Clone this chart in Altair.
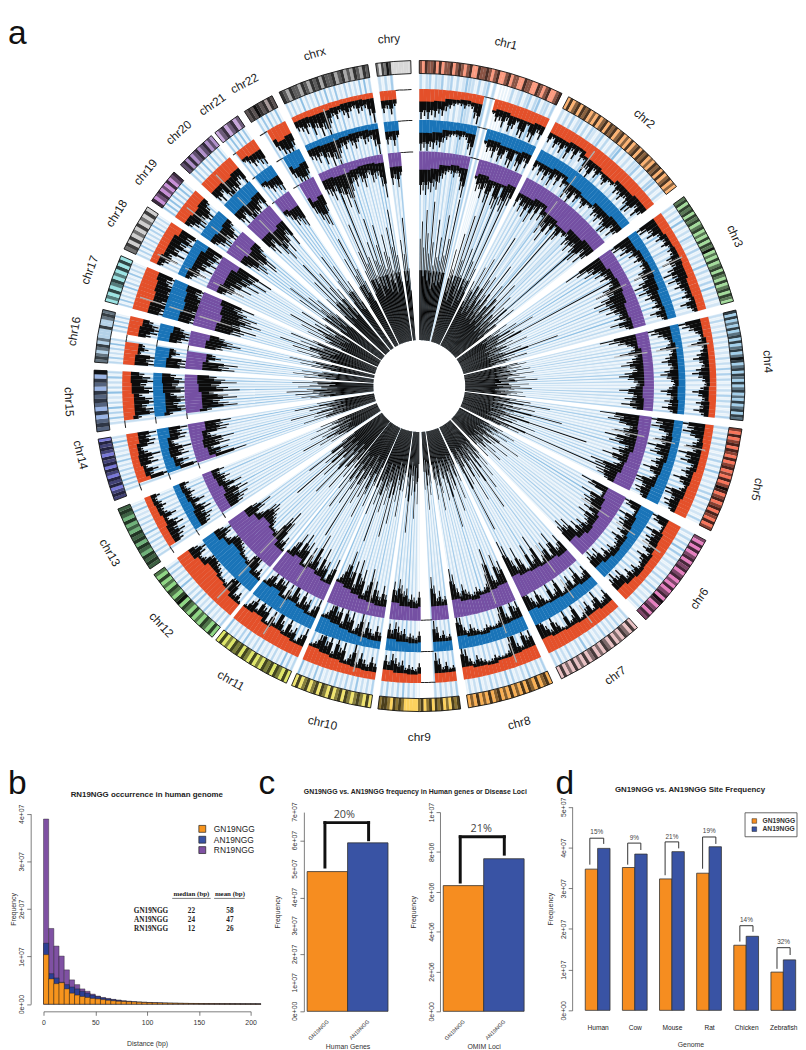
import math
import altair as alt
import pandas as pd

alt.data_transformers.disable_max_rows()

FONT = "Liberation Sans"
names = ["chr1","chr2","chr3","chr4","chr5","chr6","chr7","chr8","chr9","chr10","chr11","chr12",
         "chr13","chr14","chr15","chr16","chr17","chr18","chr19","chr20","chr21","chr22","chrx","chry"]
chrom_start = [0,27.3,54.4,76.5,97.6,118.3,137.9,155.8,172.7,188.6,204.1,219.5,235.8,249.4,261.9,274.2,285.1,294.9,304.7,312.8,321.1,327.5,334.5,352.3]
chrom_end = [26,52.2,74.9,96.1,116.4,135.9,154.1,171.3,187.3,203.1,218.7,234.6,247.8,260.6,272.8,283.6,293.6,303.4,311.1,320.3,326.1,333.1,350.9,358.5]
label_theta = [14.2,40.1,64.6,86,107,127.2,145.9,163.5,180,196,212.6,227.2,241.7,258.5,267.4,279,289.4,299.7,308,316.5,323.7,330,342.5,355]
label_angle = [14,40,66,86,100,-55,-35,-15,0,13,30,47,60,76,87,-80,-70,-58,-50,-42,-35,-28,-17,-4]
label_r = [354,350,350,350,354,352,350,352,352,351,350,352,352,346,351,350,350,349,348,350,350,350,349,349]
base_color = ["#fb9a7f","#fdb372","#a3dc9b","#a3cfea","#f8745a","#e67fc0","#eac2c4","#f9b054","#fdd35e","#f0e46e","#dfe767","#8fd784",
              "#6fb27a","#7878d8","#9ab5e6","#b4d2e8","#9ce4e4","#cfcfcf","#c88fd8","#b090cc","#c7a6dc","#a89a9a","#a8a8a8","#d8d8d8"]
centro = [None,.38,.46,.26,.27,.36,.37,.31,None,.3,.55,.27,None,None,None,None,.3,.22,.44,.44,None,None,.39,None]

chr1_tip=[30,27,30,26,28,24,26,21,18,15,13,14,16,13,15,24,29,-1,-1,-1,14,22,20,26,18,28,24,16,28,30,13,26,30,18,24]
chr2_tip=[22,16,24,19,26,18,28,17,24,14,22,18,30,24,34,20,26,14,22,26,16,20,18,24,22,26,20,24,30,28,18,26,20]
chr3_tip=[38,30,22,26,16,20,14,18,12,15,14,20,26,18,24,30,22,28,20,24,18,16,20,14,24,18,14]
chr4_tip=[34,28,22,16,12,14,22,12,14,18,22,16,14,20,24,18,14,12,16,24,18,14,20,16,22,14]
chr5_tip=[36,26,30,22,14,18,24,16,30,22,26,14,18,22,16,28,20,14,18,34,30,22,28,26,20]
chr6_tip=[34,28,12,16,30,22,26,24,18,22,14,24,18,16,14,20,16,22,16,28,24,30,26]
chr7_tip=[24,18,16,30,22,12,26,20,18,14,36,22,18,32,16,14,24,34,20,26,38,42]
chr8_tip=[30,26,36,18,22,42,32,18,16,14,16,18,15,14,16,18,22,16,20,30,34]
chr9_tip=[16,14,20,15,24,30,-1,-1,-1,-1,20,14,16,18,15,22,20,24,28,20,26]
chr10_tip=[16,22,14,18,24,14,32,20,14,30,24,36,18,34,26,40,30,22,18]
chr11_tip=[30,22,14,26,22,34,18,26,42,20,30,16,32,28,36,22,34,26,18]
chr12_tip=[16,24,20,34,42,36,22,16,20,26,28,30,34,36,34,24,20,28,34,24]
chr13_tip=[-1,-1,18,20,24,18,26,22,14,24,16,14,18,15,12,16]
chr14_tip=[-1,-1,36,18,24,14,26,22,30,18,14,26,28,24,30]
chr15_tip=[-1,-1,18,36,30,24,36,30,20,38,30,24,36,28,22]
chr16_tip=[34,30,36,14,24,20,-1,-1,24,30,36,30,24]
chr17_tip=[34,36,44,32,40,46,38,42,34,30,38]
chr18_tip=[14,18,26,18,30,22,34,26,38,28,40]
chr19_tip=[20,26,32,30,26,36,34,24,20]
chr20_tip=[26,30,22,34,40,30,36,28,24,34]
chr21_tip=[-1,14,18,24,22,26,28]
chr22_tip=[-1,-1,24,30,34,36,26]
chrx_tip=[16,18,22,16,26,20,30,24,36,20,14,18,12,16,20,14,12,18,16,14,22,30]
chry_tip=[22,18,24,16,-1,-1,-1,-1]

chr1_edge=[13,12,9,8,9,12,10,12,12,10]
chr2_edge=[12,10,14,16,12,10]
chr3_edge=[10,8,7,8,10,9]
chr4_edge=[9,7,7,7,8,7]
chr5_edge=[9,8,8,10,11,13]
chr6_edge=[14,12,11,9,8,10,13]
chr7_edge=[10,12,12,13,14,16]
chr8_edge=[14,13,12,10,11,13]
chr9_edge=[10,10,10,9,10,12]
chr10_edge=[8,9,10,12,14,16]
chr11_edge=[12,14,16,14,18,16]
chr12_edge=[14,18,20,22,18,14]
chr13_edge=[8,8,10,8,7]
chr14_edge=[14,10,8,9,12]
chr15_edge=[10,12,12,10,9]
chr16_edge=[12,14,10,12,14]
chr17_edge=[16,18,16,14]
chr18_edge=[8,10,10,14]
chr19_edge=[12,14,12]
chr20_edge=[14,16,14]
chr21_edge=[10,12,12]
chr22_edge=[12,16,14]
chrx_edge=[6,7,7,6,5,5,6]
chry_edge=[10,8]

chr1_core=[70,82,64,90,74,60,96,68,52,84,58,72,56,88,60,72,100,0,0,0,66,52,78,44,92,60,120,50,70,40,110,62,48,130,58]
chr2_core=[50,44,62,38,70,48,42,90,56,36,60,46,38,72,44,34,58,40,110,48,36,64,42,32,56,38,48,34,120,40,30,52,36]
chr3_core=[42,36,30,48,34,60,32,44,30,120,36,28,40,32,50,30,36,28,44,32,70,30,38,28,46,34,30]
chr4_core=[38,44,34,40,30,46,36,32,48,38,30,42,34,50,36,30,44,32,38,46,34,30,40,36,32,42]
chr5_core=[36,46,30,60,34,28,50,40,30,70,36,28,44,34,90,30,40,28,54,32,26,130,36,44,30]
chr6_core=[34,28,44,32,26,40,30,24,36,52,28,34,24,46,30,26,38,28,44,26,32,24,36]
chr7_core=[30,40,26,48,32,28,56,34,26,70,30,44,28,36,60,30,26,46,32,80,36,28]
chr8_core=[40,30,52,34,28,60,36,44,30,70,38,32,50,34,28,44,56,32,38,48,34]
chr9_core=[36,44,30,54,28,40,0,0,0,0,32,50,36,60,34,44,30,70,38,46]
chr10_core=[42,34,60,38,50,32,66,40,76,36,54,44,60,36,82,48,56,38,64]
chr11_core=[44,60,36,52,70,40,56,34,62,48,90,38,54,66,40,50,72,36,58]
chr12_core=[50,38,62,44,34,70,46,40,58,36,80,42,52,36,64,44,34]
chr13_core=[0,0,40,30,48,36,60,34,44,30,52,38,30,46,34,42]
chr14_core=[0,0,36,52,34,44,30,60,38,30,46,34,56,30,40]
chr15_core=[0,0,44,50,38,54,42,60,46,36,52,44,38,56,42]
chr16_core=[48,38,56,42,50,36,0,0,44,52,38,60,44]
chr17_core=[46,56,40,60,48,70,44,56,40,64,48]
chr18_core=[40,54,36,60,44,70,40,52,36,64,46]
chr19_core=[50,70,44,80,54,66,48,60,44]
chr20_core=[56,44,70,50,84,46,60,72,48,56]
chr21_core=[0,60,80,50,70,48,56]
chr22_core=[0,48,70,56,84,60,50]
chrx_core=[56,70,90,60,110,64,50,74,60,90,56,70,84,52,64,76,60,50,80,66,92,60]
chry_core=[70,60,85,50,0,0,0,0]

chr1_spoke="302403150240301632040250300000301402503602304"
chr2_spoke="2030402503041026030204703020315030204602030"
chr3_spoke="30204080302051030402030603020407020301"
chr4_spoke="203010304020301030205040301020403020104"
chr5_spoke="302050302010403060201030405020301040"
chr6_spoke="20304070503020103040205030104020"
chr7_spoke="3020403020501030206030104020503"
chr8_spoke="403020503010406020304010502030"
chr9_spoke="50302040300000002030604020503"
chr10_spoke="40302060304020503010406030207"
chr11_spoke="30508020304010503020604030208"
chr12_spoke="403020305020604030107030205040"
chr13_spoke="00304020503080204030106020"
chr14_spoke="0030508030402060301040702"
chr15_spoke="00206040703010803020603"
chr16_spoke="3050204080300030705040"
chr17_spoke="40603020704010603020"
chr18_spoke="30406020503040702030"
chr19_spoke="60807060507060"
chr20_spoke="4060308040702060"
chr21_spoke="05070608060"
chr22_spoke="004060803070"
chrx_spoke="30402070302050408030601040302060703"
chry_spoke="20305000000"

chr1_ideo="1021120201120121012002112101200120110021100210120012"
chr2_ideo="020120212010201202120120102012021201021202012010"
chr3_ideo="1202120212012010202130102012021020120210"
chr4_ideo="2020102012020120132012021020120102012021"
chr5_ideo="10201202102012010201320120120210201"
chr6_ideo="1020201202120120102012032012021"
chr7_ideo="0201201020120102102010201020"
chr8_ideo="0210201202010201021020102010"
chr9_ideo="21201021202102100000121201221"
chr10_ideo="02012101202102012021021020"
chr11_ideo="0201202120102012021201020"
chr12_ideo="020120102012032012010201"
chr13_ideo="1212012021201020121"
chr14_ideo="12102120120212012120"
chr15_ideo="121020121201203"
chr16_ideo="12101201000200121"
chr17_ideo="01020120102020"
chr18_ideo="1202010201020"
chr19_ideo="20120102012"
chr20_ideo="1202012012010"
chr21_ideo="01201201"
chr22_ideo="1213212021"
chrx_ideo="21021102102120211201201021021"
chry_ideo="10213200000000"

CX, CY = 394, 376
R_CORE = 46
IDEO_OUT, IDEO_IN = 326, 313
RINGS = [(297.5, "#e4502a", 1.0), (266.5, "#1a74b8", 1.03), (235, "#7550a3", 1.45)]
SHADE = [0.0, 0.45, 0.7, 0.9]

def shade(hexcol, k):
    r, g, b = (int(hexcol[i:i+2], 16) for i in (1, 3, 5))
    return "#%02x%02x%02x" % (int(r*(1-k)), int(g*(1-k)), int(b*(1-k)))

rows = []
def add(a0, a1, r0, r1, c, o=1.0):
    rows.append(dict(a0=a0, a1=a1, r0=r0, r1=r1, c=c, o=o))

for n, s, e in zip(names, chrom_start, chrom_end):
    spoke = globals()[n+"_spoke"]
    core = globals()[n+"_core"]
    w = (e-s)/len(spoke)
    for i, ch in enumerate(spoke):
        d = int(ch)
        a = s+i*w
        if d == 0:
            if core[int((i+0.5)*len(core)/len(spoke))] > 0:
                add(a+0.2*w, a+0.8*w, R_CORE, IDEO_IN, "#e9f3fa")
            continue
        add(a-0.1*w, a+1.1*w, R_CORE, IDEO_IN, "#dcebf7")
        add(a+0.15*w, a+0.85*w, R_CORE, IDEO_IN, "#8fc0e4", min(d/7, 1))

for n, s, e in zip(names, chrom_start, chrom_end):
    core = globals()[n+"_core"]
    w = (e-s)/len(core)
    for i, h in enumerate(core):
        if h:
            body = min(h, 70)
            add(s+i*w, s+(i+1)*w+0.03, R_CORE, R_CORE+body, "#050505")
            add(s+(i+0.3)*w, s+(i+0.7)*w, R_CORE+body-0.5, R_CORE+1.45*h, "#050505")

for r_top, col, k in RINGS:
    for n, s, e, cf in zip(names, chrom_start, chrom_end, centro):
        tip = globals()[n+"_tip"]
        edge = globals()[n+"_edge"]
        w = (e-s)/len(tip)
        for i, t in enumerate(tip):
            a = s+i*w
            if t < 0:
                add(a, a+w, r_top-1, r_top, "#222222")
                continue
            sd = edge[int(i*len(edge)/len(tip))]*k
            td = max(t*k, sd+3)
            mid = sd+0.6*(td-sd)
            add(a, a+w+0.04, r_top-sd, r_top, col)
            add(a, a+w+0.04, r_top-mid, r_top-sd+0.5, "#0c0c0c")
            add(a+0.3*w, a+0.7*w, r_top-td, r_top-mid, "#0c0c0c")
        if cf is not None:
            a = s+cf*(e-s)
            add(a-0.14, a+0.14, r_top-26*k, r_top-4, "#b0b0b0")

for n, s, e, col in zip(names, chrom_start, chrom_end, base_color):
    band = globals()[n+"_ideo"]
    w = (e-s)/len(band)
    for i, ch in enumerate(band):
        add(s+i*w, s+(i+1)*w+0.03, IDEO_IN, IDEO_OUT, shade(col, SHADE[int(ch)]))

arcs = pd.DataFrame(rows)
ideo_frame = pd.DataFrame({"a0": chrom_start, "a1": chrom_end, "r0": [IDEO_IN]*24, "r1": [IDEO_OUT]*24})
labels = pd.DataFrame({"t": names, "th": label_theta, "ang": [(a+360) % 360 for a in label_angle], "r": label_r})

ts = alt.Scale(domain=[0, 360], range=[0, 2*math.pi])
rs = alt.Scale(domain=[0, 400], range=[0, 405])
pos = dict(x=alt.value(CX), y=alt.value(CY))

arc_layer = alt.Chart(arcs).mark_arc(strokeWidth=0).encode(
    theta=alt.Theta("a0:Q", scale=ts), theta2=alt.Theta2("a1:Q"),
    radius=alt.Radius("r1:Q", scale=rs), radius2=alt.Radius2("r0:Q"),
    color=alt.Color("c:N", scale=None), opacity=alt.Opacity("o:Q", scale=None), **pos)
ideo_layer = alt.Chart(ideo_frame).mark_arc(fillOpacity=0, stroke="#111111", strokeWidth=0.9).encode(
    theta=alt.Theta("a0:Q", scale=ts), theta2=alt.Theta2("a1:Q"),
    radius=alt.Radius("r1:Q", scale=rs), radius2=alt.Radius2("r0:Q"), **pos)
label_layer = alt.Chart(labels).mark_text(font=FONT, fontSize=12, color="#1a1a1a").encode(
    theta=alt.Theta("th:Q", scale=ts), radius=alt.Radius("r:Q", scale=rs),
    angle=alt.Angle("ang:Q", scale=None), text="t:N", **pos)

def note(text, x, y, size=8, weight="normal", font=FONT, color="#222222", align="center", angle=0):
    return alt.Chart(pd.DataFrame({"t": [text]})).mark_text(
        font=font, fontSize=size, fontWeight=weight, color=color, align=align, angle=angle
    ).encode(x=alt.value(x), y=alt.value(y), text="t:N")

circos = alt.layer(arc_layer, ideo_layer, label_layer,
                   note("a", -23, 19, 34, color="#111111", align="left")
                   ).properties(width=770, height=754)

# ---------- panel data ----------
hist_rn = [38.9,15.9,12.2,10.1,7.2,5.1,4.1,3.2,2.7,2.1,1.7,1.4,1.2,1.0,.85,.7,.6,.5,.45,.4,.35,.3,.28,.25,.22,.2,.18,.16,.15,.14,.12,.11,.1,.1,.09,.08,.08,.07,.07,.06,.06,.05]
hist_an = [12.8,6.4,5.5,4.6,4.1,3.6,3.2,2.7,2.3,1.9,1.6,1.3,1.1,.95,.8,.68,.58,.5,.44,.38,.33,.29,.26,.23,.2,.18,.16,.14,.13,.12,.1,.09,.09,.08,.07,.07,.06,.06,.05,.05,.05,.04]
hist_gn = [10.4,5.3,4.3,4.5,3.2,2.3,1.9,1.6,1.4,1.2,1.1,.95,.8,.7,.6,.55,.5,.45,.4,.35,.3,.27,.24,.22,.2,.18,.16,.15,.13,.12,.1,.09,.09,.08,.07,.07,.06,.06,.05,.05,.05,.04]
hist_colors = ["#7f51a3", "#2c3f94", "#f7941d"]
table_rows = ["GN19NGG", "AN19NGG", "RN19NGG"]
table_median = ["22", "24", "12"]
table_mean = ["58", "47", "26"]
c1_values = [4.91e7, 5.92e7]
c2_values = [6.31e6, 7.66e6]
c1_ticks = [0, 1e7, 2e7, 3e7, 4e7, 5e7, 6e7, 7e7]
c1_tick_labels = ["0e+00", "1e+07", "2e+07", "3e+07", "4e+07", "5e+07", "6e+07", "7e+07"]
genomes = ["Human", "Cow", "Mouse", "Rat", "Chicken", "Zebrafish"]
d_gn = [3.47, 3.51, 3.23, 3.37, 1.60, 0.94]
d_an = [3.98, 3.84, 3.90, 4.02, 1.82, 1.24]
d_pct = ["15%", "9%", "21%", "19%", "14%", "32%"]
d_left = [.37, 3.43, 6.45, 9.48, 12.49, 15.49]
d_right = [1.49, 4.49, 7.55, 10.55, 13.55, 16.55]
d_top = [4.23, 4.11, 4.14, 4.26, 2.08, 1.54]
d_lbot = [3.58, 3.58, 3.32, 3.48, 1.69, 1.02]
d_rbot = [4.09, 3.94, 3.98, 4.09, 1.93, 1.36]
d_ltxt = [4.38, 4.24, 4.27, 4.40, 2.23, 1.67]
ORANGE, BLUE = "#f68d20", "#3953a4"
EXP = "datum.value == 0 ? '0e+00' : replace(format(datum.value,'.0e'),'e+','e+0')"

def y_axis(vals, pad, labels=True):
    return alt.Axis(values=vals, labels=labels, labelExpr=EXP, labelAngle=-90, labelFontSize=7, labelFont=FONT, labelColor="#333333",
                    labelPadding=2, labelOverlap=False, labelFlush=False, tickSize=4, tickColor="#444444", tickWidth=0.7,
                    domainColor="#444444", domainWidth=0.7,
                    grid=False, title="Frequency", titleFont=FONT, titleFontSize=7, titleFontWeight="normal",
                    titleColor="#333333", titlePadding=pad)

PANEL_H = 208
# ---------- b ----------
bx = alt.Scale(domain=[0, 200], range=[13, 223])
by = alt.Scale(domain=[0, 4e7], range=[200.7, 7.7])
hist_rows = []
for order, vals in enumerate([hist_rn, hist_an, hist_gn]):
    for i, v in enumerate(vals):
        hist_rows.append(dict(x0=i*5, x1=i*5+5, y0=0, y1=v*1e6, c=hist_colors[order], s=order))
hist = alt.Chart(pd.DataFrame(hist_rows)).mark_rect(stroke="#1a1a1a", strokeWidth=0.4).encode(
    x=alt.X("x0:Q", scale=bx, axis=alt.Axis(values=[0,50,100,150,200], labelFontSize=7, labelFont=FONT, labelColor="#333333",
            tickSize=4, tickColor="#444444", tickWidth=0.7, domainColor="#444444", domainWidth=0.7, grid=False, labelPadding=3,
            labelAngle=0, labelOverlap=False, labelFlush=False, title="Distance (bp)", titleFont=FONT, titleFontSize=7, titleFontWeight="normal",
            titleColor="#333333", titlePadding=15)),
    x2="x1:Q",
    y=alt.Y("y1:Q", scale=by, axis=y_axis([0,1e7,2e7,3e7,4e7], 1)),
    y2="y0:Q", color=alt.Color("c:N", scale=None), order="s:Q")
leg_b = alt.Chart(pd.DataFrame({"t": table_rows, "c": ["#f7941d", "#3953a4", "#7f51a3"], "y": [23, 34, 44.5]}))
SERIF = "Liberation Serif"
panel_b = alt.layer(
    hist,
    leg_b.mark_square(size=49, opacity=1, stroke="#222222", strokeWidth=0.7).encode(
        x=alt.value(174), y=alt.Y("y:Q", scale=None), fill=alt.Fill("c:N", scale=None)),
    leg_b.mark_text(font=FONT, fontSize=8.5, color="#222222", align="left").encode(
        x=alt.value(185.7), y=alt.Y("y:Q", scale=None), text="t:N"),
    note("RN19NGG occurrence in human genome", 117.7, -11, 8, "bold"),
    note("b", -23, -22, 34, color="#111111", align="left"),
    note("median (bp)", 163, 89, 7, "bold", SERIF),
    note("mean (bp)", 202, 89, 7, "bold", SERIF),
    alt.Chart(pd.DataFrame({"a": [143.5, 186], "b": [182.5, 217]})).mark_rule(color="#222222", strokeWidth=0.6).encode(
        x=alt.X("a:Q", scale=None), x2="b:Q", y=alt.value(93.5)),
    note(table_rows[0], 122, 106.7, 7.3, "bold", SERIF),
    note(table_rows[1], 122, 115.5, 7.3, "bold", SERIF),
    note(table_rows[2], 122, 124.5, 7.3, "bold", SERIF),
    note(table_median[0], 163, 106.7, 7.3, "bold", SERIF),
    note(table_median[1], 163, 115.5, 7.3, "bold", SERIF),
    note(table_median[2], 163, 124.5, 7.3, "bold", SERIF),
    note(table_mean[0], 202, 106.7, 7.3, "bold", SERIF),
    note(table_mean[1], 202, 115.5, 7.3, "bold", SERIF),
    note(table_mean[2], 202, 124.5, 7.3, "bold", SERIF),
).properties(width=277, height=PANEL_H)

# ---------- c ----------
def bar_panel(values, ymax, yticks, xtitle, bracket, pct, pct_pos, title_note=None, width=137.3, pad=11, axis_labels=True):
    xs = alt.Scale(domain=[0, 2], range=[3.3, 85.3])
    ys = alt.Scale(domain=[0, ymax], range=[208, 6])
    df = pd.DataFrame({"x0": [0, 1], "x1": [1, 2], "v": values, "z": [0, 0], "c": [ORANGE, BLUE]})
    bars = alt.Chart(df).mark_rect(stroke="#333333", strokeWidth=0.8).encode(
        x=alt.X("x0:Q", scale=xs, axis=alt.Axis(values=[0.5, 1.5], labelExpr="datum.value < 1 ? 'GN19NGG' : 'AN19NGG'",
                labelAngle=-45, labelAlign="right", labelBaseline="middle", labelFontSize=5.5, labelFont=FONT, labelColor="#333333",
                domain=False, ticks=False, grid=False, labelPadding=9, title=xtitle, titleFont=FONT, titleFontSize=7,
                titleFontWeight="normal", titleColor="#333333", titlePadding=1)),
        x2="x1:Q", y=alt.Y("v:Q", scale=ys, axis=y_axis(yticks, pad, axis_labels)), y2="z:Q",
        color=alt.Color("c:N", scale=None))
    lx, rx, top, lb, rb = bracket
    seg = pd.DataFrame({"a": [lx, lx, rx], "b": [lx, rx, rx], "p": [lb, top, top], "q": [top, top, rb]})
    br = alt.Chart(seg).mark_rule(color="#111111", strokeWidth=3, strokeCap="square").encode(
        x=alt.X("a:Q", scale=xs), x2="b:Q", y=alt.Y("p:Q", scale=ys), y2="q:Q")
    txt = alt.Chart(pd.DataFrame({"t": [pct], "a": [pct_pos[0]], "p": [pct_pos[1]]})).mark_text(
        font="Open Sans", fontSize=11, color="#444444").encode(
        x=alt.X("a:Q", scale=xs), y=alt.Y("p:Q", scale=ys), text="t:N")
    layers = [bars, br, txt]
    if not axis_labels:
        tick_df = pd.DataFrame({"p": c1_ticks, "t": c1_tick_labels})
        layers.append(alt.Chart(tick_df).mark_text(font=FONT, fontSize=7, color="#333333", angle=270).encode(
            x=alt.value(-9), y=alt.Y("p:Q", scale=ys), text="t:N"))
    if title_note:
        layers.extend(title_note)
    return alt.layer(*layers).properties(width=width, height=PANEL_H)

panel_c1 = bar_panel(c1_values, 7e7, c1_ticks, "Human Genes",
                     (0.44, 1.52, 6.63e7, 5.07e7, 6.03e7), "20%", (0.92, 6.9e7),
                     [note("GN19NGG vs. AN19NGG frequency in Human genes or Disease Loci", 113, -14, 7, "bold"),
                      note("c", -46, -22, 34, color="#111111", align="left")], width=137.3, pad=19, axis_labels=False)
panel_c2 = bar_panel(c2_values, 1e7, [0, 2e6, 4e6, 6e6, 8e6, 1e7], "OMIM Loci",
                     (0.42, 1.51, 8.76e6, 6.49e6, 7.89e6), "21%", (0.94, 9.16e6), width=133.7)

# ---------- d ----------
dx = alt.Scale(domain=[0, 17], range=[13.3, 226.65])
dy = alt.Scale(domain=[0, 5e7], range=[207, 0.7])
d_rows = []
for i in range(6):
    d_rows.append(dict(x0=i*3, x1=i*3+1, v=d_gn[i]*1e7, z=0, c=ORANGE))
    d_rows.append(dict(x0=i*3+1, x1=i*3+2, v=d_an[i]*1e7, z=0, c=BLUE))
d_bars = alt.Chart(pd.DataFrame(d_rows)).mark_rect(stroke="#333333", strokeWidth=0.8).encode(
    x=alt.X("x0:Q", scale=dx, axis=alt.Axis(values=[1,4,7,10,13,16],
            labelExpr="['Human','Cow','Mouse','Rat','Chicken','Zebrafish'][(datum.value-1)/3]",
            domain=False, ticks=False, grid=False, labelFontSize=6.7, labelFont=FONT, labelColor="#222222", labelAngle=0, labelPadding=13,
            labelOverlap=False, labelFlush=False, title="Genome", titleFont=FONT, titleFontSize=7, titleFontWeight="normal", titleColor="#333333", titlePadding=10)),
    x2="x1:Q", y=alt.Y("v:Q", scale=dy, axis=y_axis([0,1e7,2e7,3e7,4e7,5e7], 6)), y2="z:Q",
    color=alt.Color("c:N", scale=None))
d_seg = []
for i in range(6):
    d_seg.append(dict(a=d_left[i], b=d_left[i], p=d_lbot[i]*1e7, q=d_top[i]*1e7))
    d_seg.append(dict(a=d_left[i], b=d_right[i], p=d_top[i]*1e7, q=d_top[i]*1e7))
    d_seg.append(dict(a=d_right[i], b=d_right[i], p=d_top[i]*1e7, q=d_rbot[i]*1e7))
d_br = alt.Chart(pd.DataFrame(d_seg)).mark_rule(color="#333333", strokeWidth=1).encode(
    x=alt.X("a:Q", scale=dx), x2="b:Q", y=alt.Y("p:Q", scale=dy), y2="q:Q")
d_txt = alt.Chart(pd.DataFrame({"t": d_pct, "a": [(l+r)/2 for l, r in zip(d_left, d_right)], "p": [v*1e7 for v in d_ltxt]})).mark_text(
    font=FONT, fontSize=6.5, color="#444444").encode(x=alt.X("a:Q", scale=dx), y=alt.Y("p:Q", scale=dy), text="t:N")
leg_d = alt.Chart(pd.DataFrame({"t": table_rows[:2], "c": [ORANGE, BLUE], "y": [15, 23.3]}))
panel_d = alt.layer(
    d_bars, d_br, d_txt,
    alt.Chart(pd.DataFrame({"k": [0]})).mark_rect(fill="white", stroke="#555555", strokeWidth=0.9).encode(
        x=alt.value(175.3), x2=alt.value(228), y=alt.value(6.7), y2=alt.value(31)),
    leg_d.mark_square(size=22, opacity=1, stroke="#222222", strokeWidth=0.5).encode(
        x=alt.value(184.7), y=alt.Y("y:Q", scale=None), fill=alt.Fill("c:N", scale=None)),
    leg_d.mark_text(font=FONT, fontSize=6.8, fontWeight="bold", color="#333333", align="left").encode(
        x=alt.value(193), y=alt.Y("y:Q", scale=None), text="t:N"),
    note("GN19NGG vs. AN19NGG Site Frequency", 119.5, -16, 8, "bold"),
    note("d", -17, -22, 34, color="#111111", align="left"),
).properties(width=227, height=PANEL_H)

row = alt.hconcat(panel_b, panel_c1, panel_c2, panel_d, spacing=0, bounds="flush").resolve_scale(
    x="independent", y="independent", color="independent", fill="independent")
chart = alt.vconcat(circos, row, spacing=48, bounds="flush").properties(padding=0).configure_view(strokeWidth=0)
chart.save("out.html", embed_options={"renderer": "svg", "actions": False})
